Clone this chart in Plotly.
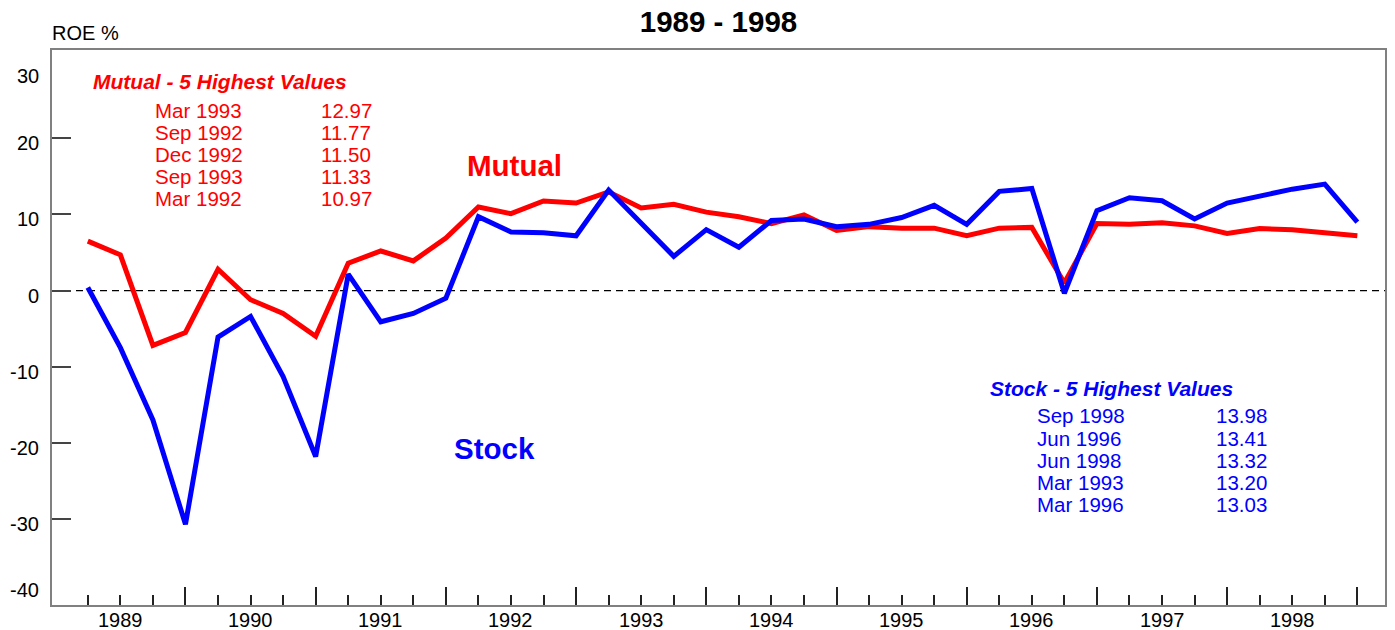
import plotly.graph_objects as go

# ---------------- data ----------------
years = [1989, 1990, 1991, 1992, 1993, 1994, 1995, 1996, 1997, 1998]
months = ["Mar", "Jun", "Sep", "Dec"]
quarters = [f"{m} {y}" for y in years for m in months]

mutual = [6.5, 4.7, -7.2, -5.5, 2.8, -1.2, -3.0, -6.0,
          3.6, 5.2, 3.9, 6.9, 10.97, 10.1, 11.77, 11.50,
          12.97, 10.85, 11.33, 10.3, 9.7, 8.8, 9.95, 7.9,
          8.4, 8.2, 8.2, 7.2, 8.2, 8.3, 1.0, 8.8,
          8.7, 8.9, 8.5, 7.5, 8.15, 8.0, 7.6, 7.2]

stock = [0.4, -7.5, -17.0, -30.7, -6.1, -3.4, -11.3, -21.8,
         2.15, -4.1, -3.0, -1.0, 9.7, 7.7, 7.6, 7.2,
         13.20, 8.8, 4.5, 8.0, 5.7, 9.2, 9.4, 8.4,
         8.7, 9.6, 11.2, 8.7, 13.03, 13.41, -0.35, 10.5,
         12.2, 11.8, 9.4, 11.5, 12.4, 13.32, 13.98, 9.0]

y_tick_vals = [-30, -20, -10, 0, 10, 20]
y_label_vals = [30, 20, 10, 0, -10, -20, -30, -40]

mutual_top_dates = ["Mar 1993", "Sep 1992", "Dec 1992", "Sep 1993", "Mar 1992"]
mutual_top_vals = [12.97, 11.77, 11.50, 11.33, 10.97]
stock_top_dates = ["Sep 1998", "Jun 1996", "Jun 1998", "Mar 1993", "Mar 1996"]
stock_top_vals = [13.98, 13.41, 13.32, 13.20, 13.03]

# ---------------- figure ----------------
FONT = "Liberation Sans, Arial, sans-serif"
W, H = 1395, 630
L, R, T, B = 52, 8, 50, 25
PW, PH = W - L - R, H - T - B

def px(xpix):
    return (xpix - L) / PW

def py(ypix):
    return (H - B - ypix) / PH

x = list(range(len(quarters)))

fig = go.Figure()
fig.add_trace(go.Scatter(x=x, y=mutual, mode="lines", name="Mutual",
                         text=quarters,
                         line=dict(color="#ff0000", width=5)))
fig.add_trace(go.Scatter(x=x, y=stock, mode="lines", name="Stock",
                         text=quarters,
                         line=dict(color="#0000ff", width=5)))

n_years = len(years)
major_ticks = [4 * k + 3 for k in range(n_years)]
minor_ticks = [i for i in x if i not in major_ticks]
label_pos = [4 * k + 1 for k in range(n_years)]

fig.update_layout(
    width=W, height=H,
    margin=dict(l=L, r=R, t=T, b=B, pad=0),
    paper_bgcolor="white", plot_bgcolor="white",
    showlegend=False,
    font=dict(family=FONT, size=20, color="black"),
    title=dict(text="<b>1989 - 1998</b>", x=0.5, xref="paper",
               y=1 - 22 / H, yref="container", yanchor="middle", xanchor="center",
               font=dict(family=FONT, size=29.5, color="black")),
    xaxis=dict(range=[-1.1, 39.85], showgrid=False, zeroline=False,
               showline=True, mirror=True, linecolor="#808080", linewidth=2,
               tickmode="array", tickvals=major_ticks, showticklabels=False,
               ticks="inside", ticklen=18, tickwidth=1.5, tickcolor="#222222",
               minor=dict(tickmode="array", tickvals=minor_ticks, ticks="inside",
                          ticklen=10, tickwidth=1.5, tickcolor="#222222",
                          showgrid=False)),
    yaxis=dict(range=[-41.3, 31.6], showgrid=False, zeroline=False,
               showline=True, mirror=True, linecolor="#808080", linewidth=2,
               tickmode="array", tickvals=y_tick_vals, showticklabels=False,
               ticks="inside", ticklen=19, tickwidth=1.5, tickcolor="#444444"),
)

# zero dashed line
fig.add_shape(type="line", xref="paper", x0=0, x1=1, yref="y", y0=0, y1=0,
              line=dict(color="black", width=1.3, dash="7px,5px"), layer="below")

ann = []
# year labels
for pos, yr in zip(label_pos, years):
    ann.append(dict(x=pos, xref="x", y=0, yref="paper", yanchor="top",
                    xanchor="center", yshift=-2, showarrow=False,
                    text=str(yr), font=dict(size=20, color="black")))
# y labels (end labels pushed inside like the original)
for v in y_label_vals:
    shift = -5
    if v == 30:
        shift = -14
    if v == -40:
        shift = 5
    ann.append(dict(x=0, xref="paper", xanchor="right", xshift=-11,
                    y=v, yref="y", yanchor="middle", yshift=shift,
                    showarrow=False, text=str(v),
                    font=dict(size=20, color="black")))
# axis title
ann.append(dict(x=0, xref="paper", xanchor="left", xshift=-2,
                y=1, yref="paper", yanchor="middle", yshift=17,
                showarrow=False, text="ROE %", font=dict(size=20, color="black")))

# series labels
ann.append(dict(x=px(466), xref="paper", xanchor="left", y=py(165), yref="paper",
                yanchor="middle", showarrow=False, text="<b>Mutual</b>",
                font=dict(size=29.5, color="#ff0000")))
ann.append(dict(x=px(453), xref="paper", xanchor="left", y=py(448), yref="paper",
                yanchor="middle", showarrow=False, text="<b>Stock</b>",
                font=dict(size=29.5, color="#0000ff")))

# top-5 boxes
def top_box(title, dates, vals, color, tx, ty, dx, vx, row0):
    ann.append(dict(x=px(tx), xref="paper", xanchor="left", y=py(ty), yref="paper",
                    yanchor="middle", showarrow=False,
                    text=f"<b><i>{title}</i></b>",
                    font=dict(size=21, color=color)))
    for k, (d, v) in enumerate(zip(dates, vals)):
        yy = py(row0 + 22 * k)
        ann.append(dict(x=px(dx), xref="paper", xanchor="left", y=yy, yref="paper",
                        yanchor="middle", showarrow=False, text=d,
                        font=dict(size=20.5, color=color)))
        ann.append(dict(x=px(vx), xref="paper", xanchor="left", y=yy, yref="paper",
                        yanchor="middle", showarrow=False, text=f"{v:.2f}",
                        font=dict(size=20.5, color=color)))

top_box("Mutual - 5 Highest Values", mutual_top_dates, mutual_top_vals,
        "#ff0000", 91, 82, 153, 319, 110)
top_box("Stock - 5 Highest Values", stock_top_dates, stock_top_vals,
        "#0000ff", 989, 388, 1036, 1216, 416)

fig.update_layout(annotations=ann)

fig.write_html("out.html", config={"displayModeBar": False},
               post_script="document.body.style.margin='0';document.body.style.overflow='hidden';")
